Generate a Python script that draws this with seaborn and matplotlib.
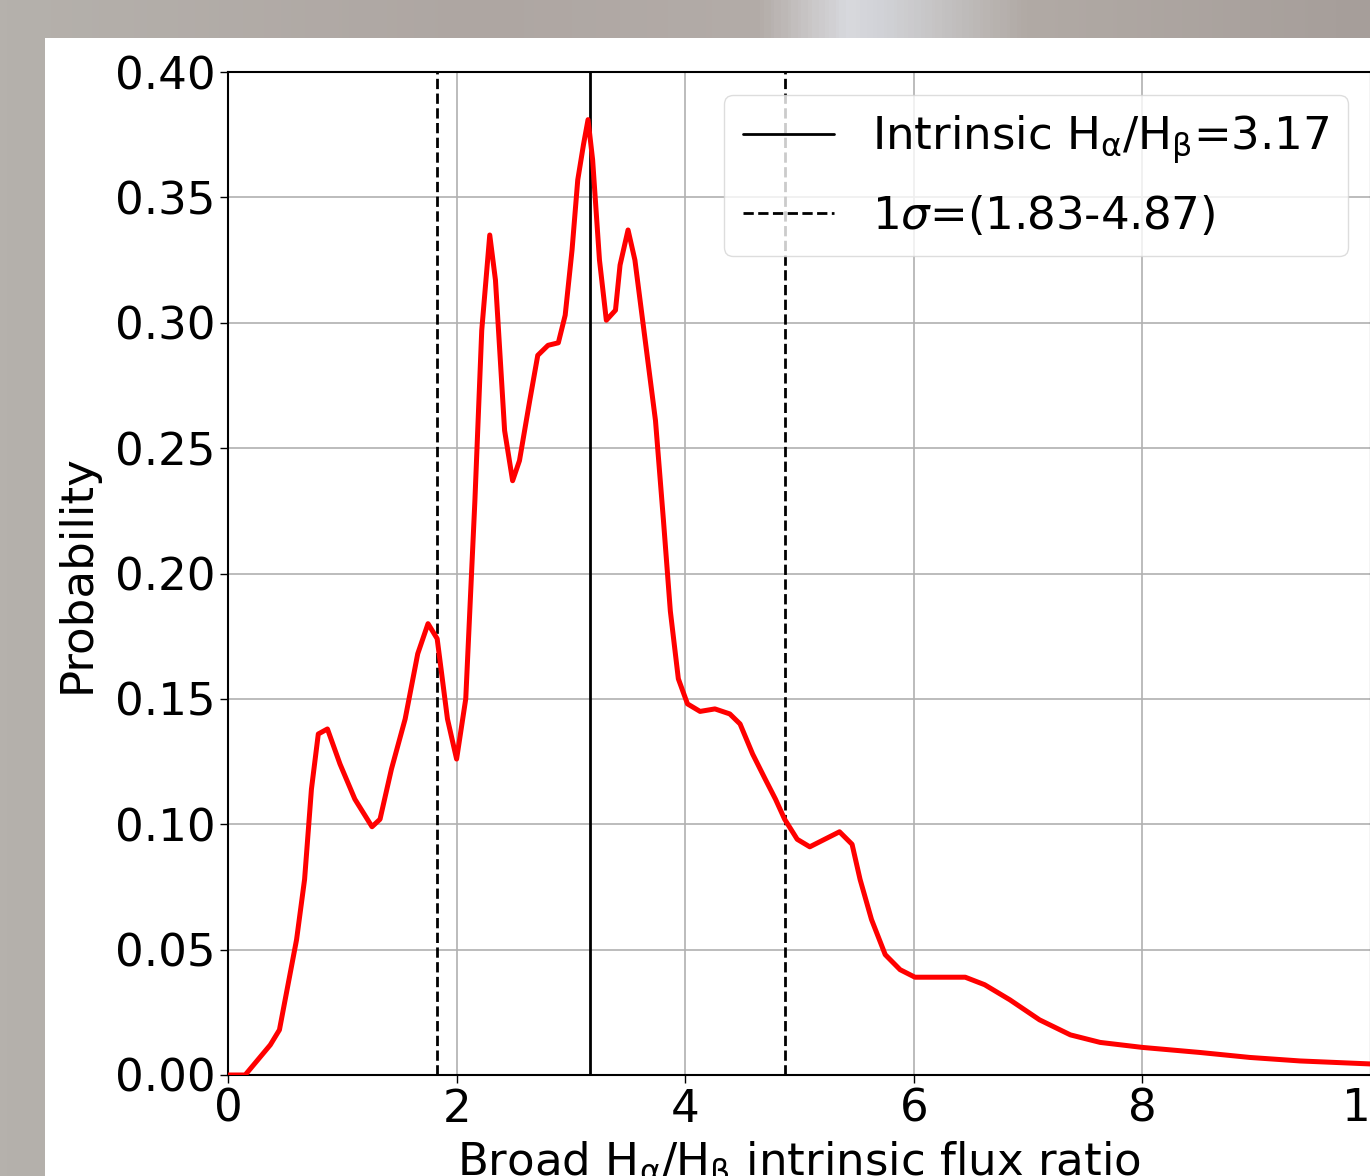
import numpy as np
import pandas as pd
import matplotlib
matplotlib.use("Agg")
import matplotlib.pyplot as plt
import seaborn as sns
from matplotlib.patches import Rectangle
from matplotlib.colors import LinearSegmentedColormap

# ---------------- data ----------------
ratio = [0.00, 0.15, 0.37, 0.45, 0.60, 0.67, 0.73, 0.79, 0.87, 0.98, 1.11, 1.26,
         1.33, 1.43, 1.55, 1.66, 1.75, 1.83, 1.92, 2.00, 2.08, 2.16, 2.22, 2.29,
         2.34, 2.42, 2.49, 2.55, 2.64, 2.71, 2.80, 2.89, 2.95, 3.01, 3.06, 3.11,
         3.15, 3.19, 3.25, 3.31, 3.39, 3.43, 3.50, 3.56, 3.65, 3.74, 3.81, 3.87,
         3.94, 4.02, 4.13, 4.26, 4.39, 4.48, 4.59, 4.70, 4.79, 4.87, 4.98, 5.09,
         5.22, 5.35, 5.46, 5.53, 5.63, 5.75, 5.88, 6.01, 6.23, 6.45, 6.62, 6.84,
         7.10, 7.37, 7.63, 8.00, 8.50, 8.94, 9.38, 10.00]
probability = [0.000, 0.000, 0.012, 0.018, 0.054, 0.078, 0.114, 0.136, 0.138, 0.124,
               0.110, 0.099, 0.102, 0.122, 0.142, 0.168, 0.180, 0.174, 0.142, 0.126,
               0.150, 0.229, 0.297, 0.335, 0.317, 0.257, 0.237, 0.245, 0.269, 0.287,
               0.291, 0.292, 0.303, 0.329, 0.357, 0.371, 0.381, 0.365, 0.325, 0.301,
               0.305, 0.323, 0.337, 0.325, 0.293, 0.261, 0.221, 0.185, 0.158, 0.148,
               0.145, 0.146, 0.144, 0.140, 0.128, 0.118, 0.110, 0.102, 0.094, 0.091,
               0.094, 0.097, 0.092, 0.078, 0.062, 0.048, 0.042, 0.039, 0.039, 0.039,
               0.036, 0.030, 0.022, 0.016, 0.013, 0.011, 0.009, 0.007, 0.0056, 0.0044]
intrinsic_value = 3.17
sigma_low = 1.83
sigma_high = 4.87
x_ticks = [0, 2, 4, 6, 8, 10]
y_ticks = [0.00, 0.05, 0.10, 0.15, 0.20, 0.25, 0.30, 0.35, 0.40]

df = pd.DataFrame({"ratio": ratio, "probability": probability})

# ---------------- style ----------------
sns.set_theme(style="whitegrid")
plt.rcParams["font.family"] = ["DejaVu Sans"]
plt.rcParams["mathtext.fontset"] = "dejavusans"
FS = 32.5

W, H = 1370, 1176
fig = plt.figure(figsize=(W / 100, H / 100), dpi=100)
fig.patch.set_facecolor("#aea8a3")

# background (photo-like grey surround with a lighter band on top)
bg = fig.add_axes([0, 0, 1, 1], zorder=-10)
bg.set_axis_off()
cmap = LinearSegmentedColormap.from_list(
    "bgband",
    [(0.0, "#b5b1ac"), (0.35, "#aea6a2"), (0.555, "#b3aca8"), (0.59, "#c8c5c5"),
     (0.62, "#d8d9de"), (0.65, "#d0d1d5"), (0.69, "#c4c2c2"), (0.75, "#b1aaa5"),
     (1.0, "#a69e9a")])
grad = np.linspace(0, 1, 400)[None, :]
bg.imshow(grad, aspect="auto", cmap=cmap, extent=[0, 1, 0, 1], transform=bg.transAxes)
bg.add_patch(Rectangle((45 / W, 0), 1 - 45 / W, (H - 38) / H,
                       transform=bg.transAxes, facecolor="white", edgecolor="none"))
bg.set_xlim(0, 1)
bg.set_ylim(0, 1)

# main axes
left, right, top, bottom = 228, 1371, 72, 1075
ax = fig.add_axes([left / W, (H - bottom) / H, (right - left) / W, (bottom - top) / H])
ax.set_facecolor("white")

sns.lineplot(data=df, x="ratio", y="probability", ax=ax, color="red",
             linewidth=3.6, estimator=None, sort=False, zorder=3)

ax.axvline(intrinsic_value, color="black", linestyle="-", linewidth=2.0,
           label=r"Intrinsic H$_{\mathrm{\alpha}}$/H$_{\mathrm{\beta}}$=3.17", zorder=2)
ax.axvline(sigma_low, color="black", linestyle="--", linewidth=2.0,
           label=r"1$\sigma$=(1.83-4.87)", zorder=2)
ax.axvline(sigma_high, color="black", linestyle="--", linewidth=2.0, zorder=2)

ax.set_xlim(0, 10)
ax.set_ylim(0, 0.40)
ax.set_xticks(x_ticks)
ax.set_yticks(y_ticks)
ax.set_xticklabels([str(t) for t in x_ticks])
ax.set_yticklabels([f"{t:.2f}" for t in y_ticks])

ax.grid(True, color="#b0b0b0", linewidth=1.2)
for s in ax.spines.values():
    s.set_color("black")
    s.set_linewidth(1.5)
    s.set_visible(True)
ax.tick_params(axis="both", which="major", labelsize=FS, length=6, width=1.0,
               color="black", labelcolor="black", direction="out",
               left=True, bottom=True, pad=3)

ax.set_xlabel(r"Broad H$_{\mathrm{\alpha}}$/H$_{\mathrm{\beta}}$ intrinsic flux ratio",
              fontsize=FS, color="black", labelpad=6)
ax.set_ylabel("Probability", fontsize=FS, color="black", labelpad=12)

leg = ax.legend(loc="upper right", fontsize=FS, frameon=True, framealpha=0.8,
                fancybox=True, edgecolor="#d5d5d5", facecolor="white",
                labelspacing=0.6, borderpad=0.42, handletextpad=0.85,
                borderaxespad=0.5)
for t in leg.get_texts():
    t.set_color("black")

fig.savefig("out.png", dpi=100, facecolor=fig.get_facecolor())
